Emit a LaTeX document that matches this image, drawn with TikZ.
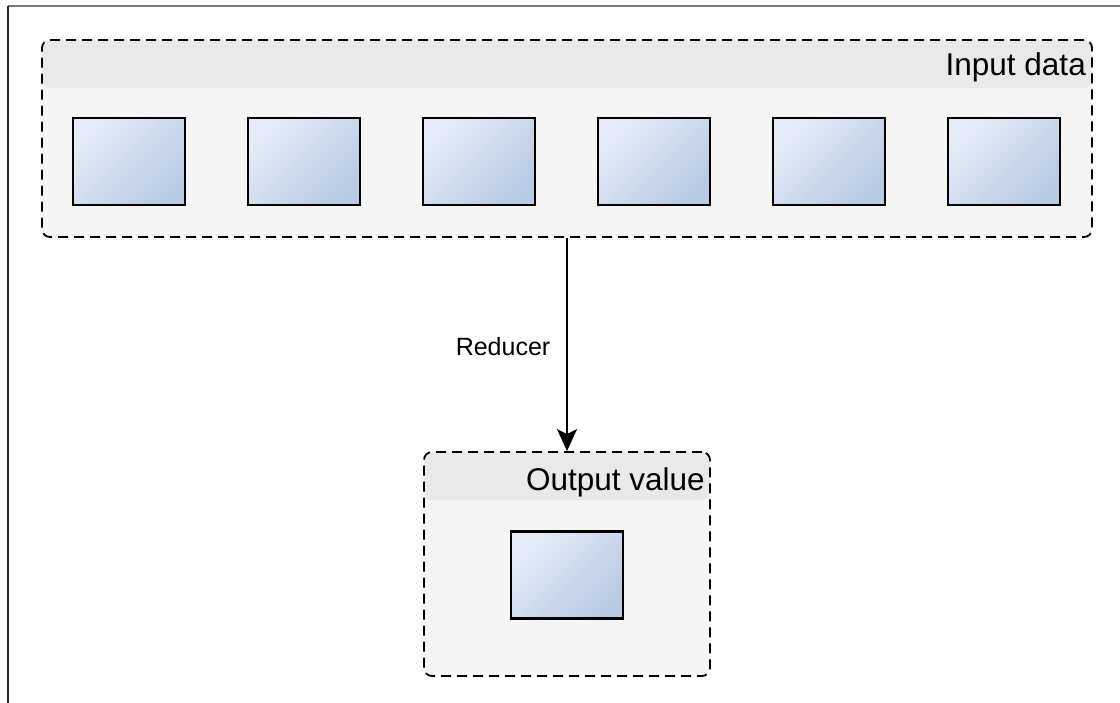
\documentclass[tikz,border=0pt]{standalone}
\usepackage{fontspec}
\setmainfont{Liberation Sans}
\usetikzlibrary{arrows.meta,positioning}

\definecolor{bodygray}{HTML}{F5F5F5}
\definecolor{headgray}{HTML}{E9E9E9}
\definecolor{celllight}{HTML}{E4EBF6}
\definecolor{celldark}{HTML}{B9CAE4}
\definecolor{framegray}{HTML}{7A7A7A}

\tikzset{
  container/.style={
    draw=black, line width=1.8pt, dash pattern=on 10pt off 6pt,
    rounded corners=8pt, fill=bodygray, inner sep=0pt,
    path picture={
      \fill[headgray] (path picture bounding box.north west)
        rectangle ([yshift=-48pt]path picture bounding box.north east);
    }
  },
  cell/.style={
    draw=black, line width=2.2pt, inner sep=0pt,
    minimum width=112pt, minimum height=87pt,
    top color=celllight, bottom color=celldark, shading angle=45
  },
  headline/.style={font=\fontsize{31.5}{36}\selectfont, inner sep=0pt, anchor=base east},
  edgelabel/.style={font=\fontsize{25}{30}\selectfont, inner sep=0pt, anchor=base}
}

\begin{document}
\begin{tikzpicture}[x=1pt, y=-1pt]
  \useasboundingbox (0,0) rectangle (1120,703);

  % outer frame edges
  \draw[framegray, line width=1.2pt] (8,6) -- (1120,6);
  \draw[black!85, line width=1.6pt] (8,6) -- (8,703);

  % input container with its items
  \node[container, minimum width=1050pt, minimum height=197pt] (input) at (567,138.5) {};
  \node[headline] (inputtitle) at (1086,76) {Input data};
  \foreach \i/\x in {1/129, 2/304, 3/479, 4/654, 5/829, 6/1004}
    \node[cell] (in\i) at (\x,161.5) {};

  % output container with the reduced value
  \node[container, minimum width=286pt, minimum height=224pt] (output) at (567,564) {};
  \node[headline] (outputtitle) at (705,490) {Output value};
  \node[cell] (outcell) at (567,575) {};

  % reducer connector
  \draw[line width=2pt, -{Stealth[length=22pt, width=20pt, inset=5pt]}]
    (input.south) -- (output.north);
  \node[edgelabel] (reducer) at (503,356) {Reducer};
\end{tikzpicture}
\end{document}
